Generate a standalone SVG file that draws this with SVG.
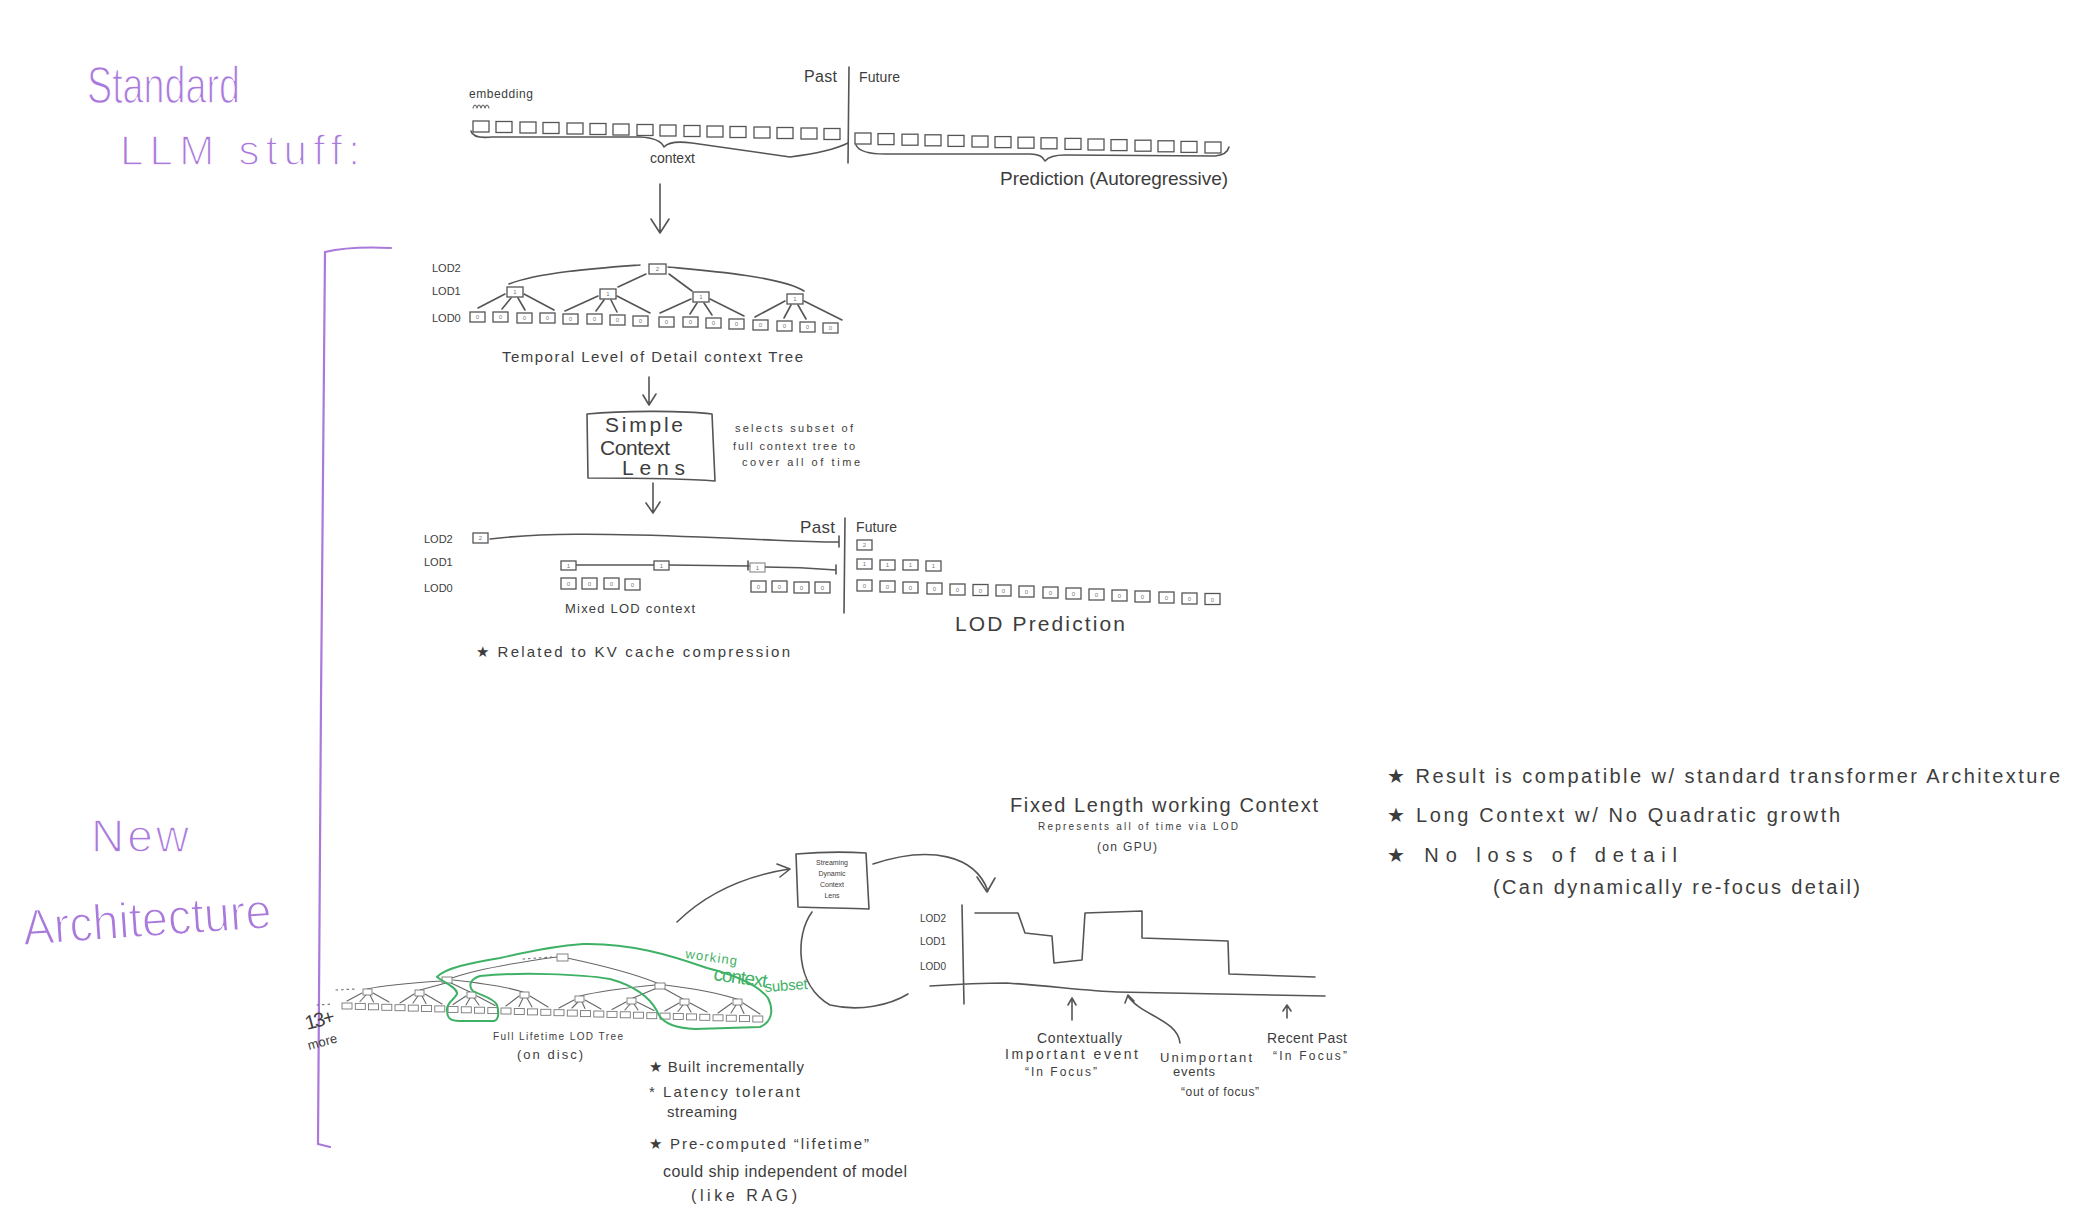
<svg xmlns="http://www.w3.org/2000/svg" width="2090" height="1218" viewBox="0 0 2090 1218">
<style>
.ink{fill:none;stroke:#555;stroke-width:1.6;stroke-linecap:round;stroke-linejoin:round}
.thin{fill:none;stroke:#666;stroke-width:1.1;stroke-linecap:round;stroke-linejoin:round}
.dot{fill:none;stroke:#777;stroke-width:1.2;stroke-dasharray:1.5 4;stroke-linecap:round}
.bx{fill:#fff;stroke:#555;stroke-width:1.3}
.sb{fill:#fff;stroke:#777;stroke-width:0.9}
.pur{fill:none;stroke:#a979db;stroke-width:2.2;stroke-linecap:round}
.grn{fill:none;stroke:#3fb166;stroke-width:2;stroke-linecap:round;stroke-linejoin:round}
text{font-family:"Liberation Sans",Arial,sans-serif;fill:#3d3d3d}
.pt{fill:#a979db;stroke:#fff;stroke-width:1.4}
.gt{fill:#3fb166}
.d{font-size:6px;fill:#777;text-anchor:middle}
</style>
<rect width="2090" height="1218" fill="#fff"/>

<g id="titles">
<text class="pt" x="87" y="103" font-size="52" textLength="153" lengthAdjust="spacingAndGlyphs">Standard</text>
<text class="pt" x="120" y="165" font-size="42" textLength="240">LLM stuff:</text>
<text class="pt" x="91" y="852" font-size="46" textLength="98">New</text>
<text class="pt" x="24" y="945" font-size="50" textLength="249" lengthAdjust="spacingAndGlyphs" transform="rotate(-4 24 945)">Architecture</text>
<path class="pur" d="M391,248 Q350,246 325,252 L321,700 L318,1144 L330,1147"/>
</g>

<g id="standard-context">
<text x="469" y="98" font-size="12" textLength="64">embedding</text>
<path class="thin" d="M473,108 q2,-6 4,0 q2,-6 4,0 q2,-6 4,0 q2,-6 4,0"/>
<rect class="bx" x="473" y="121" width="16" height="11"/>
<rect class="bx" x="496" y="121.5" width="16" height="11"/>
<rect class="bx" x="520" y="122" width="16" height="11"/>
<rect class="bx" x="543" y="122.5" width="16" height="11"/>
<rect class="bx" x="567" y="123" width="16" height="11"/>
<rect class="bx" x="590" y="123.5" width="16" height="11"/>
<rect class="bx" x="613" y="124" width="16" height="11"/>
<rect class="bx" x="637" y="124.5" width="16" height="11"/>
<rect class="bx" x="660" y="125" width="16" height="11"/>
<rect class="bx" x="684" y="125.5" width="16" height="11"/>
<rect class="bx" x="707" y="126" width="16" height="11"/>
<rect class="bx" x="730" y="126.5" width="16" height="11"/>
<rect class="bx" x="754" y="127" width="16" height="11"/>
<rect class="bx" x="777" y="127.5" width="16" height="11"/>
<rect class="bx" x="801" y="128" width="16" height="11"/>
<rect class="bx" x="824" y="128.5" width="16" height="11"/>
<path class="ink" d="M471,131 Q473,139 492,137 L640,137 Q660,138 664,147 Q670,140 692,143 L790,157 Q830,152 848,143"/>
<text x="650" y="163" font-size="14" textLength="45">context</text>
</g>

<g id="standard-prediction">
<text x="804" y="82" font-size="16" textLength="33">Past</text>
<text x="859" y="82" font-size="14" textLength="41">Future</text>
<path class="ink" d="M849,67 L848,163"/>
<rect class="bx" x="855" y="133" width="16" height="11"/>
<rect class="bx" x="878" y="133.6" width="16" height="11"/>
<rect class="bx" x="902" y="134.2" width="16" height="11"/>
<rect class="bx" x="925" y="134.8" width="16" height="11"/>
<rect class="bx" x="948" y="135.4" width="16" height="11"/>
<rect class="bx" x="972" y="136" width="16" height="11"/>
<rect class="bx" x="995" y="136.6" width="16" height="11"/>
<rect class="bx" x="1018" y="137.2" width="16" height="11"/>
<rect class="bx" x="1041" y="137.8" width="16" height="11"/>
<rect class="bx" x="1065" y="138.4" width="16" height="11"/>
<rect class="bx" x="1088" y="139" width="16" height="11"/>
<rect class="bx" x="1111" y="139.6" width="16" height="11"/>
<rect class="bx" x="1135" y="140.2" width="16" height="11"/>
<rect class="bx" x="1158" y="140.8" width="16" height="11"/>
<rect class="bx" x="1181" y="141.4" width="16" height="11"/>
<rect class="bx" x="1205" y="142" width="16" height="11"/>
<path class="ink" d="M856,145 Q860,154 885,154 L1030,154 Q1042,154 1045,161 Q1050,155 1065,155 L1215,156 Q1227,155 1229,147"/>
<text x="1000" y="185" font-size="19" textLength="228">Prediction (Autoregressive)</text>
</g>

<g id="lod-tree">
<text x="432" y="272" font-size="11">LOD2</text>
<text x="432" y="295" font-size="11">LOD1</text>
<text x="432" y="322" font-size="11">LOD0</text>
<path class="ink" d="M640,265 C600,268 540,272 509,284 M646,274 L618,287 M669,274 L692,291 M668,267 C700,270 780,276 804,291"/>
<path class="ink" d="M505,294 L478,308 M511,298 L502,309 M518,298 L525,310 M524,294 L554,310 M598,296 L565,311 M604,300 L596,311 M611,300 L617,312 M617,296 L650,313 M691,299 L660,313 M697,303 L690,314 M704,303 L712,315 M710,299 L744,316 M785,301 L755,317 M791,305 L784,318 M798,305 L806,319 M804,301 L842,320"/>
<rect class="bx" x="649" y="264" width="17" height="10"/>
<rect class="bx" x="507" y="287" width="16" height="10"/>
<rect class="bx" x="600" y="289" width="16" height="10"/>
<rect class="bx" x="693" y="292" width="16" height="10"/>
<rect class="bx" x="787" y="294" width="16" height="10"/>
<rect class="bx" x="470" y="312" width="15" height="10"/>
<rect class="bx" x="493" y="312" width="15" height="10"/>
<rect class="bx" x="517" y="313" width="15" height="10"/>
<rect class="bx" x="540" y="313" width="15" height="10"/>
<rect class="bx" x="563" y="314" width="15" height="10"/>
<rect class="bx" x="587" y="314" width="15" height="10"/>
<rect class="bx" x="610" y="315" width="15" height="10"/>
<rect class="bx" x="633" y="316" width="15" height="10"/>
<rect class="bx" x="659" y="317" width="15" height="10"/>
<rect class="bx" x="683" y="317" width="15" height="10"/>
<rect class="bx" x="706" y="318" width="15" height="10"/>
<rect class="bx" x="729" y="319" width="15" height="10"/>
<rect class="bx" x="753" y="320" width="15" height="10"/>
<rect class="bx" x="777" y="321" width="15" height="10"/>
<rect class="bx" x="800" y="322" width="15" height="10"/>
<rect class="bx" x="823" y="323" width="15" height="10"/>
<text class="d" x="657.5" y="271">2</text>
<text class="d" x="515" y="294">1</text><text class="d" x="608" y="296">1</text><text class="d" x="701" y="299">1</text><text class="d" x="795" y="301">1</text>
<text class="d" x="477.5" y="319">0</text><text class="d" x="500.5" y="319">0</text><text class="d" x="524.5" y="320">0</text><text class="d" x="547.5" y="320">0</text>
<text class="d" x="570.5" y="321">0</text><text class="d" x="594.5" y="321">0</text><text class="d" x="617.5" y="322">0</text><text class="d" x="640.5" y="323">0</text>
<text class="d" x="666.5" y="324">0</text><text class="d" x="690.5" y="324">0</text><text class="d" x="713.5" y="325">0</text><text class="d" x="736.5" y="326">0</text>
<text class="d" x="760.5" y="327">0</text><text class="d" x="784.5" y="328">0</text><text class="d" x="807.5" y="329">0</text><text class="d" x="830.5" y="330">0</text>
<text x="502" y="362" font-size="15" textLength="301">Temporal Level of Detail context Tree</text>
</g>

<g id="simple-lens">
<path class="ink" d="M587,414 C620,411 680,410 712,414 L715,481 C680,478 620,478 588,478 Z"/>
<text x="605" y="432" font-size="21" textLength="78">Simple</text>
<text x="600" y="455" font-size="21" textLength="70">Context</text>
<text x="622" y="475" font-size="21" textLength="63">Lens</text>
<text x="735" y="432" font-size="11" textLength="118">selects subset of</text>
<text x="733" y="450" font-size="11" textLength="122">full context tree to</text>
<text x="742" y="466" font-size="11" textLength="118">cover all of time</text>
</g>

<g id="mixed-lod">
<text x="424" y="543" font-size="11">LOD2</text>
<text x="424" y="566" font-size="11">LOD1</text>
<text x="424" y="592" font-size="11">LOD0</text>
<path class="ink" d="M490,539 C540,533 600,533 700,537 S800,542 839,542 M839,536 L839,547"/>
<path class="ink" d="M576,565 L654,565 M669,565 L749,566 M748,561 L748,570 M765,567 Q800,567 836,570 M836,565 L836,574"/>
<rect class="bx" x="473" y="533" width="15" height="10"/>
<rect class="bx" x="561" y="561" width="15" height="9"/>
<rect class="bx" x="654" y="561" width="15" height="9"/>
<rect class="bx" x="750" y="563" width="15" height="9" stroke-opacity="0.6"/>
<rect class="bx" x="561" y="578" width="15" height="11"/>
<rect class="bx" x="582" y="578" width="15" height="11"/>
<rect class="bx" x="604" y="578" width="15" height="11"/>
<rect class="bx" x="625" y="579" width="15" height="11"/>
<rect class="bx" x="751" y="581" width="15" height="11"/>
<rect class="bx" x="772" y="581" width="15" height="11"/>
<rect class="bx" x="794" y="582" width="15" height="11"/>
<rect class="bx" x="815" y="582" width="15" height="11"/>
<text class="d" x="480.5" y="540">2</text>
<text class="d" x="568.5" y="568">1</text><text class="d" x="661.5" y="568">1</text><text class="d" x="757.5" y="570">1</text>
<text class="d" x="568.5" y="586">0</text><text class="d" x="589.5" y="586">0</text><text class="d" x="611.5" y="586">0</text><text class="d" x="632.5" y="587">0</text>
<text class="d" x="758.5" y="589">0</text><text class="d" x="779.5" y="589">0</text><text class="d" x="801.5" y="590">0</text><text class="d" x="822.5" y="590">0</text>
<text x="565" y="613" font-size="13" textLength="130">Mixed LOD context</text>
<text x="476" y="657" font-size="15" textLength="314">★ Related to KV cache compression</text>
</g>

<g id="lod-prediction">
<text x="800" y="533" font-size="17" textLength="35">Past</text>
<text x="856" y="532" font-size="14" textLength="41">Future</text>
<path class="ink" d="M845,518 L844,613"/>
<rect class="bx" x="857" y="540" width="15" height="10"/>
<rect class="bx" x="857" y="559" width="15" height="10"/>
<rect class="bx" x="880" y="560" width="15" height="10"/>
<rect class="bx" x="903" y="560" width="15" height="10"/>
<rect class="bx" x="926" y="561" width="15" height="10"/>
<rect class="bx" x="857" y="580" width="15" height="11"/>
<rect class="bx" x="880" y="581" width="15" height="11"/>
<rect class="bx" x="903" y="582" width="15" height="11"/>
<rect class="bx" x="927" y="583" width="15" height="11"/>
<rect class="bx" x="950" y="584" width="15" height="11"/>
<rect class="bx" x="973" y="584.5" width="15" height="11"/>
<rect class="bx" x="996" y="585" width="15" height="11"/>
<rect class="bx" x="1019" y="586" width="15" height="11"/>
<rect class="bx" x="1043" y="587" width="15" height="11"/>
<rect class="bx" x="1066" y="588" width="15" height="11"/>
<rect class="bx" x="1089" y="589" width="15" height="11"/>
<rect class="bx" x="1112" y="590" width="15" height="11"/>
<rect class="bx" x="1135" y="591" width="15" height="11"/>
<rect class="bx" x="1159" y="592" width="15" height="11"/>
<rect class="bx" x="1182" y="593" width="15" height="11"/>
<rect class="bx" x="1205" y="593.5" width="15" height="11"/>
<text class="d" x="864.5" y="547">2</text>
<text class="d" x="864.5" y="566">1</text><text class="d" x="887.5" y="567">1</text><text class="d" x="910.5" y="567">1</text><text class="d" x="933.5" y="568">1</text>
<text class="d" x="864.5" y="588">0</text><text class="d" x="887.5" y="589">0</text><text class="d" x="910.5" y="590">0</text><text class="d" x="934.5" y="591">0</text>
<text class="d" x="957.5" y="592">0</text><text class="d" x="980.5" y="592.5">0</text><text class="d" x="1003.5" y="593">0</text><text class="d" x="1026.5" y="594">0</text>
<text class="d" x="1050.5" y="595">0</text><text class="d" x="1073.5" y="596">0</text><text class="d" x="1096.5" y="597">0</text><text class="d" x="1119.5" y="598">0</text>
<text class="d" x="1142.5" y="599">0</text><text class="d" x="1166.5" y="600">0</text><text class="d" x="1189.5" y="601">0</text><text class="d" x="1212.5" y="601.5">0</text>
<text x="955" y="631" font-size="21" textLength="170">LOD Prediction</text>
</g>

<g id="lifetime-tree">
<path class="dot" d="M523,959 L552,957 M336,990 L356,989 M317,1005 L333,1004"/>
<path class="thin" d="M557,957 C520,962 480,968 452,978 M567,958 C600,965 630,972 657,983"/>
<path class="thin" d="M442,981 C410,983 385,985 367,989 M446,983 L420,990 M451,983 L470,992 M453,980 C480,983 505,986 523,992"/>
<path class="thin" d="M655,985 C625,988 600,991 580,996 M657,988 L633,998 M663,988 L683,999 M665,985 C690,988 715,992 737,999"/>
<path class="thin" d="M362,993 L347,1001 M366,995 L360,1001.5 M370,995 L373.5,1002 M373,993 L389,1002 M414,994 L400,1003 M418,996 L413,1003 M422,996 L426,1003.5 M425,994 L442,1004 M466,996 L453,1004.5 M470,998 L466,1005 M474,998 L479,1005 M477,996 L495,1005.5 M519,996 L506,1006 M523,998 L519,1006.5 M527,998 L532,1007 M530,996 L548,1007 M574,1000 L559,1008 M578,1002 L572,1008 M582,1002 L585,1008.5 M585,1000 L601,1009 M626,1002 L612,1009.5 M630,1004 L625,1010 M634,1004 L638,1010 M637,1002 L654,1010.5 M679,1003 L665,1011 M683,1005 L678,1011.5 M687,1005 L691,1012 M690,1003 L707,1012 M732,1003 L718,1013 M736,1005 L731,1013 M740,1005 L744,1013.5 M743,1003 L760,1014"/>
<rect class="sb" x="557" y="954" width="11" height="7"/>
<rect class="sb" x="442" y="977" width="10" height="6"/>
<rect class="sb" x="655" y="983" width="10" height="6"/>
<rect class="sb" x="363" y="989" width="9" height="6"/>
<rect class="sb" x="415" y="990" width="9" height="6"/>
<rect class="sb" x="467" y="992" width="9" height="6"/>
<rect class="sb" x="520" y="992" width="9" height="6"/>
<rect class="sb" x="575" y="996" width="9" height="6"/>
<rect class="sb" x="627" y="998" width="9" height="6"/>
<rect class="sb" x="680" y="999" width="9" height="6"/>
<rect class="sb" x="733" y="999" width="9" height="6"/>
<rect class="sb" x="342" y="1003" width="10" height="6"/>
<rect class="sb" x="355.3" y="1003.4" width="10" height="6"/>
<rect class="sb" x="368.5" y="1003.8" width="10" height="6"/>
<rect class="sb" x="381.8" y="1004.3" width="10" height="6"/>
<rect class="sb" x="395" y="1004.7" width="10" height="6"/>
<rect class="sb" x="408.3" y="1005.1" width="10" height="6"/>
<rect class="sb" x="421.5" y="1005.5" width="10" height="6"/>
<rect class="sb" x="434.8" y="1005.9" width="10" height="6"/>
<rect class="sb" x="448" y="1006.4" width="10" height="6"/>
<rect class="sb" x="461.3" y="1006.8" width="10" height="6"/>
<rect class="sb" x="474.5" y="1007.2" width="10" height="6"/>
<rect class="sb" x="487.8" y="1007.6" width="10" height="6"/>
<rect class="sb" x="501" y="1008" width="10" height="6"/>
<rect class="sb" x="514.3" y="1008.5" width="10" height="6"/>
<rect class="sb" x="527.5" y="1008.9" width="10" height="6"/>
<rect class="sb" x="540.8" y="1009.3" width="10" height="6"/>
<rect class="sb" x="554" y="1009.7" width="10" height="6"/>
<rect class="sb" x="567.3" y="1010.1" width="10" height="6"/>
<rect class="sb" x="580.5" y="1010.6" width="10" height="6"/>
<rect class="sb" x="593.8" y="1011" width="10" height="6"/>
<rect class="sb" x="607" y="1011.4" width="10" height="6"/>
<rect class="sb" x="620.3" y="1011.8" width="10" height="6"/>
<rect class="sb" x="633.5" y="1012.2" width="10" height="6"/>
<rect class="sb" x="646.8" y="1012.7" width="10" height="6"/>
<rect class="sb" x="660" y="1013.1" width="10" height="6"/>
<rect class="sb" x="673.3" y="1013.5" width="10" height="6"/>
<rect class="sb" x="686.5" y="1013.9" width="10" height="6"/>
<rect class="sb" x="699.8" y="1014.3" width="10" height="6"/>
<rect class="sb" x="713" y="1014.8" width="10" height="6"/>
<rect class="sb" x="726.3" y="1015.2" width="10" height="6"/>
<rect class="sb" x="739.5" y="1015.6" width="10" height="6"/>
<rect class="sb" x="752.8" y="1016" width="10" height="6"/>
<path class="grn" d="M437,977 C445,983 458,988 457,994 C454,1000 446,1003 447,1010 C447,1018 450,1021 460,1021 L494,1021 C499,1020 499,1012 497,1005 C494,998 480,995 473,991 C468,986 470,979 480,976 C520,972 580,974 610,979 C635,986 650,998 657,1011 C660,1020 670,1028 695,1029 L760,1027 C772,1022 774,1010 768,998 C758,985 735,975 707,968 C670,955 630,943 583,944 C555,946 530,951 500,958 C470,963 445,968 437,977 Z"/>
<text class="gt" x="685" y="958" font-size="13" textLength="52" transform="rotate(8 685 958)">working</text>
<text class="gt" x="713" y="980" font-size="19" textLength="54" transform="rotate(8 713 980)">context</text>
<text class="gt" x="765" y="992" font-size="15" textLength="43" transform="rotate(-4 765 992)">subset</text>
<text x="307" y="1030" font-size="20" textLength="30" transform="rotate(-15 307 1030)">13+</text>
<text x="309" y="1050" font-size="13" textLength="30" transform="rotate(-15 309 1050)">more</text>
<text x="493" y="1040" font-size="10" textLength="130">Full Lifetime LOD Tree</text>
<text x="517" y="1059" font-size="13" textLength="66">(on disc)</text>
<text x="649" y="1072" font-size="15" textLength="155">★ Built incrementally</text>
<text x="649" y="1097" font-size="15" textLength="151">* Latency tolerant</text>
<text x="667" y="1117" font-size="15" textLength="70">streaming</text>
<text x="649" y="1149" font-size="15" textLength="220">★ Pre-computed “lifetime”</text>
<text x="663" y="1177" font-size="16" textLength="244">could ship independent of model</text>
<text x="691" y="1201" font-size="16" textLength="106">(like RAG)</text>
</g>

<g id="streaming-lens">
<path class="ink" d="M796,854 C820,852 850,852 866,853 L869,909 C845,908 820,908 798,907 Z"/>
<text x="832" y="865" font-size="7" text-anchor="middle">Streaming</text>
<text x="832" y="876" font-size="7" text-anchor="middle">Dynamic</text>
<text x="832" y="887" font-size="7" text-anchor="middle">Context</text>
<text x="832" y="898" font-size="7" text-anchor="middle">Lens</text>
</g>

<g id="working-context">
<text x="1010" y="812" font-size="20" textLength="308">Fixed Length working Context</text>
<text x="1038" y="830" font-size="10" textLength="200">Represents all of time via LOD</text>
<text x="1097" y="851" font-size="12" textLength="60">(on GPU)</text>
<text x="920" y="922" font-size="10">LOD2</text>
<text x="920" y="945" font-size="10">LOD1</text>
<text x="920" y="970" font-size="10">LOD0</text>
<path class="ink" d="M962,905 L964,1004 M930,986 C960,984 990,983 1007,983 C1050,986 1090,991 1117,992 C1200,994 1270,995 1325,996"/>
<path class="ink" d="M975,913 L1018,913 L1025,933 L1052,936 L1054,963 L1082,960 L1085,913 L1142,911 L1142,938 L1228,941 L1229,974 L1315,977"/>
<path class="ink" d="M1072,1020 L1072,999 M1068,1005 L1072,998 L1076,1005 M1180,1043 C1178,1020 1140,1015 1128,996 M1125,1003 L1128,995 L1134,1001 M1287,1018 L1287,1006 M1283,1011 L1287,1005 L1291,1011"/>
<text x="1037" y="1043" font-size="14" textLength="85">Contextually</text>
<text x="1005" y="1059" font-size="14" textLength="133">Important event</text>
<text x="1025" y="1076" font-size="12" textLength="72">“In Focus”</text>
<text x="1160" y="1062" font-size="13" textLength="92">Unimportant</text>
<text x="1173" y="1076" font-size="13" textLength="42">events</text>
<text x="1181" y="1096" font-size="12" textLength="78">“out of focus”</text>
<text x="1267" y="1043" font-size="14" textLength="80">Recent Past</text>
<text x="1273" y="1060" font-size="12" textLength="74">“In Focus”</text>
</g>

<g id="benefits">
<text x="1387" y="783" font-size="20" textLength="673">★ Result is compatible w/ standard transformer Architexture</text>
<text x="1387" y="822" font-size="20" textLength="453">★ Long Context w/ No Quadratic growth</text>
<text x="1387" y="862" font-size="20" textLength="290">★ No loss of detail</text>
<text x="1493" y="894" font-size="20" textLength="367">(Can dynamically re-focus detail)</text>
</g>

<g id="connectors">
<path class="ink" d="M660,184 L660,232 M651,219 L660,233 L669,219"/>
<path class="ink" d="M649,377 L649,404 M643,395 L649,405 L656,394"/>
<path class="ink" d="M653,483 L653,512 M646,503 L653,513 L660,502"/>
<path class="ink" d="M677,922 Q720,880 789,869 M777,864 L790,869 L780,877"/>
<path class="ink" d="M873,864 C930,845 975,855 988,891 M977,877 L987,892 L995,878"/>
<path class="ink" d="M812,912 C795,935 795,985 830,1005 C860,1012 890,1005 908,994"/>
</g>
</svg>
